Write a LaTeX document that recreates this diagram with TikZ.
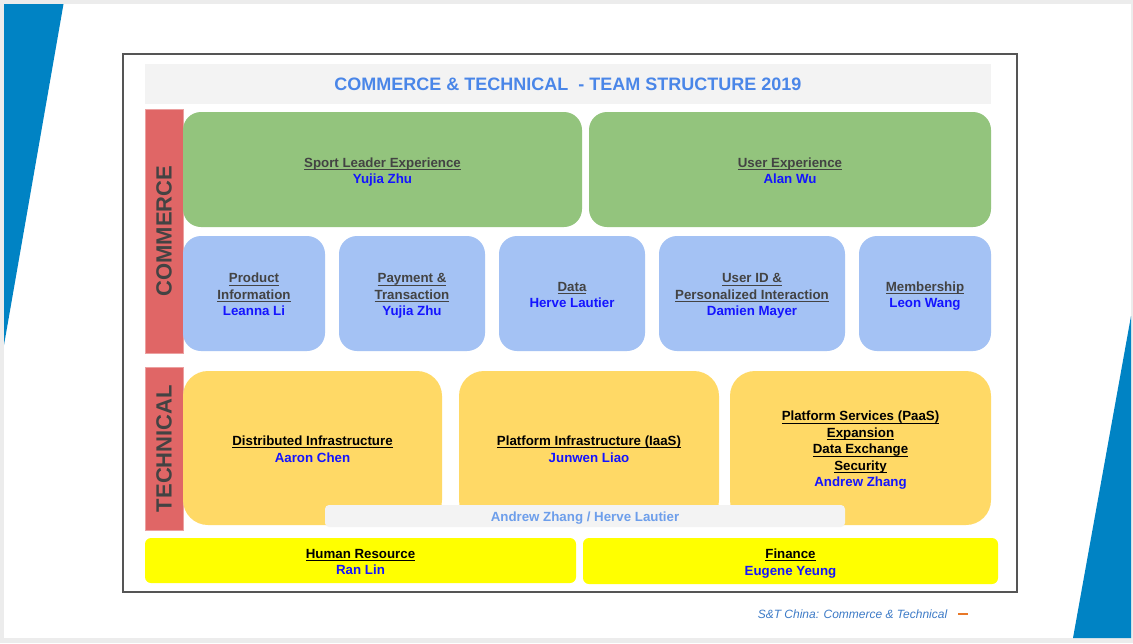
\documentclass[tikz,border=0pt]{standalone}
\usepackage{fontspec}
\setmainfont{Liberation Sans}
\definecolor{bggray}{RGB}{236,236,236}
\definecolor{slideblue}{RGB}{0,131,196}
\definecolor{framegray}{RGB}{85,85,85}
\definecolor{titlebar}{RGB}{243,243,243}
\definecolor{titleblue}{RGB}{74,134,232}
\definecolor{redbar}{RGB}{224,102,102}
\definecolor{redborder}{RGB}{236,160,160}
\definecolor{grn}{RGB}{147,196,125}
\definecolor{lblue}{RGB}{164,194,244}
\definecolor{yelor}{RGB}{255,217,102}
\definecolor{yel}{RGB}{255,255,0}
\definecolor{hdgray}{RGB}{67,67,67}
\definecolor{nmblue}{RGB}{20,20,255}
\definecolor{bartxt}{RGB}{109,158,235}
\definecolor{footblue}{RGB}{61,123,199}
\definecolor{footorange}{RGB}{232,120,40}
\newsavebox\ulbox
\newcommand\mystrut{\rule[-0.23em]{0pt}{1.18em}}
\newcommand\myul[1]{\leavevmode\sbox\ulbox{#1}\rlap{\rule[-2.6pt]{\wd\ulbox}{1pt}}\usebox\ulbox}
\newcommand\bodyfont{\fontsize{13.3}{16.5}\selectfont\bfseries}
\newcommand\hd[1]{{\color{hdgray}\mystrut\myul{#1}}}
\newcommand\hk[1]{{\color{black}\mystrut\myul{#1}}}
\newcommand\nm[1]{{\color{nmblue}\mystrut#1}}
% box with its text set 1pt lower than the centre
\newcommand\rbox[7]{\node[#6, minimum width={(#3-#1)*1pt}, minimum height={(#4-#2)*1pt}] (#5) at ({(#1+#3)/2},{(#2+#4)/2}) {};
  \node[txt, #6, fill=none, minimum width=0pt, minimum height=0pt, yshift=-1.2pt] (#5-t) at (#5.center) {#7};}
\tikzset{
  every node/.style={inner sep=0pt, outer sep=0pt},
  txt/.style={align=center, font=\bodyfont},
  greenbox/.style={txt, fill=grn, rounded corners=18pt},
  bluebox/.style={txt, fill=lblue, rounded corners=18pt},
  orbox/.style={txt, fill=yelor, rounded corners=25pt},
  yelbox/.style={txt, fill=yel, rounded corners=6pt},
  redlabel/.style={fill=redbar, draw=redborder, line width=0.8pt},
}
\begin{document}
\begin{tikzpicture}[x=1pt,y=-1pt]
\useasboundingbox (0,0) rectangle (1133,643);
\fill[bggray] (0,0) rectangle (1133,643);
\fill[white] (4,4) rectangle (1131,638);
\fill[slideblue] (4,4) -- (63.5,4) -- (4,345) -- cycle;
\fill[slideblue] (1131,316) -- (1131,638) -- (1073,638) -- cycle;
\draw[framegray, line width=1.3pt] (123,54) rectangle (1017,592);
% title
\node[fill=titlebar, minimum width=846pt, minimum height=40pt, font=\fontsize{18}{20}\selectfont\bfseries, text=titleblue] (title) at (568,84) {COMMERCE \& TECHNICAL\ \ - TEAM STRUCTURE 2019};
% side labels
\node[redlabel, minimum width=38pt, minimum height=244pt] (commerce) at (164,231) {};
\node[rotate=90, font=\fontsize{22}{24}\selectfont\bfseries, text=hdgray] (commercetxt) at (164,231) {COMMERCE};
\node[redlabel, minimum width=38pt, minimum height=163pt] (technical) at (164,448.5) {};
\node[rotate=90, font=\fontsize{22}{24}\selectfont\bfseries, text=hdgray] (technicaltxt) at (164,448.5) {TECHNICAL};
% green row
\rbox{183}{112}{582}{227}{sle}{greenbox}{\hd{Sport Leader Experience}\\\nm{Yujia Zhu}}
\rbox{589}{112}{991}{227}{ux}{greenbox}{\hd{User Experience}\\\nm{Alan Wu}}
% blue row
\rbox{183}{236}{325}{351}{prod}{bluebox}{\hd{Product}\\\hd{Information}\\\nm{Leanna Li}}
\rbox{339}{236}{485}{351}{pay}{bluebox}{\hd{Payment \&}\\\hd{Transaction}\\\nm{Yujia Zhu}}
\rbox{499}{236}{645}{351}{data}{bluebox}{\hd{Data}\\\nm{Herve Lautier}}
\rbox{659}{236}{845}{351}{uid}{bluebox}{\hd{User ID \&}\\\hd{Personalized Interaction}\\\nm{Damien Mayer}}
\rbox{859}{236}{991}{351}{mem}{bluebox}{\hd{Membership}\\\nm{Leon Wang}}
% technical row
\rbox{183}{371}{442}{525}{dist}{orbox}{\hk{Distributed Infrastructure}\\\nm{Aaron Chen}}
\rbox{459}{371}{719}{525}{iaas}{orbox}{\hk{Platform Infrastructure (IaaS)}\\\nm{Junwen Liao}}
\rbox{730}{371}{991}{525}{paas}{orbox}{\hk{Platform Services (PaaS)}\\\hk{Expansion}\\\hk{Data Exchange}\\\hk{Security}\\\nm{Andrew Zhang}}
\rbox{325}{505}{845}{527}{shared}{txt, fill=titlebar, rounded corners=4pt, text=bartxt}{\mystrut Andrew Zhang / Herve Lautier}
% bottom row
\rbox{145}{538}{576}{583}{hr}{yelbox}{\hk{Human Resource}\\\nm{Ran Lin}}
\rbox{583}{538}{998}{584}{fin}{yelbox}{\hk{Finance}\\\nm{Eugene Yeung}}
% footer
\node[font=\fontsize{12}{14}\selectfont\itshape, text=footblue] (footer) at (852.5,614) {S\&T China: Commerce \& Technical};
\draw[footorange, line width=2pt] (958,614) -- (968,614);
\end{tikzpicture}
\end{document}
